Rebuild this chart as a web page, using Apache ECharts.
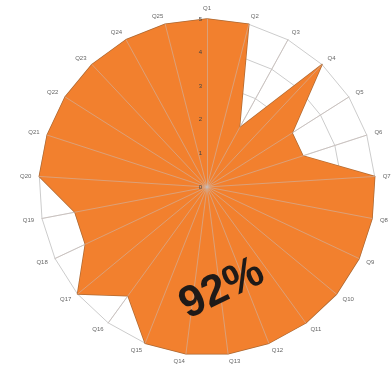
<!DOCTYPE html>
<html>
<head>
<meta charset="utf-8">
<script src="https://cdn.jsdelivr.net/npm/echarts@6/dist/echarts.min.js"></script>
<style>html,body{margin:0;padding:0;background:#fff}#c{width:391px;height:371px}</style>
</head>
<body>
<div id="c"></div>
<script>
const categories = ['Q1','Q2','Q3','Q4','Q5','Q6','Q7','Q8','Q9','Q10','Q11','Q12','Q13','Q14','Q15','Q16','Q17','Q18','Q19','Q20','Q21','Q22','Q23','Q24','Q25'];
const scores = [5,5,2,5,3,3,5,5,5,5,5,5,5,5,5,4,5,4,4,5,5,5,5,5,5];
const tickLabels = ['0','1','2','3','4','5'];
const scaleMax = 5;
const centerText = '92%';

// ECharts radar runs counter-clockwise; reorder so Q1..Q25 read clockwise
const order = [0].concat(categories.map((_, i) => i).slice(1).reverse());
const cats = order.map(i => categories[i]);
const vals = order.map(i => scores[i]);

const chart = echarts.init(document.getElementById('c'));
const baseInd = cats.map(n => ({ name: n, min: 0, max: scaleMax }));
const overInd = cats.map((n, i) => i === 0
  ? { name: n, min: 0, max: scaleMax, axisLabel: { show: true } }
  : { name: n, min: 0, max: scaleMax });

chart.setOption({
  animation: false,
  radar: [
    {
      center: [207, 187], radius: 168, startAngle: 90, shape: 'polygon',
      splitNumber: 5, indicator: baseInd, z: 1,
      axisName: { color: '#666', fontSize: 6, fontFamily: 'Liberation Sans' },
      nameGap: 8,
      splitLine: { lineStyle: { color: '#cccccc', width: 1 } },
      splitArea: { show: false },
      axisLine: { lineStyle: { color: '#cccccc', width: 1 } },
      axisLabel: { show: false }
    },
    {
      center: [207, 187], radius: 168, startAngle: 90, shape: 'polygon',
      splitNumber: 5, indicator: overInd, z: 5,
      axisName: { show: false },
      splitLine: { show: false },
      splitArea: { show: false },
      axisLine: { lineStyle: { color: 'rgba(200,185,180,0.55)', width: 1 } },
      axisLabel: {
        show: false, color: '#444', fontSize: 6, margin: 5,
        fontFamily: 'Liberation Sans',
        formatter: v => tickLabels[v]
      }
    }
  ],
  series: [{
    type: 'radar', radarIndex: 0, z: 3, symbol: 'none',
    lineStyle: { color: '#B06A33', width: 1.5 },
    areaStyle: { color: '#F2802E', opacity: 1 },
    data: [{ value: vals }]
  }],
  graphic: [{
    type: 'text', x: 222, y: 289, rotation: 26 * Math.PI / 180, z: 10,
    style: {
      text: centerText, fill: '#1f1a18', font: 'bold 44px "Liberation Sans"',
      textAlign: 'center', textVerticalAlign: 'middle'
    }
  }]
});
</script>
</body>
</html>
